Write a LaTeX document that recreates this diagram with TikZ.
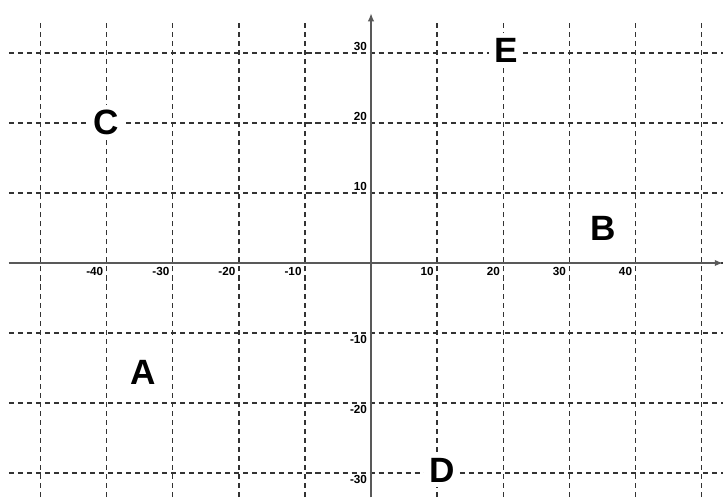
\documentclass[tikz,border=0pt]{standalone}
\usepackage{fontspec}
\setmainfont{Liberation Sans}
\usetikzlibrary{arrows.meta}

\begin{document}
\begin{tikzpicture}[x=0.1983cm,y=0.21cm,
    gridline/.style={draw=black!80,line width=1.2pt,dash pattern=on 4.3pt off 3.4pt},
    axisline/.style={draw=black!65,line width=1.6pt,-{Latex[length=7pt,width=5.5pt]}},
    ticklabel/.style={font=\fontsize{10}{11}\selectfont\bfseries,inner sep=1pt},
    pointlabel/.style={font=\fontsize{30}{32}\selectfont\bfseries,fill=white,inner sep=4pt}]
    \useasboundingbox (-56.13,-33.43) rectangle (53.25,37.57);

    % dashed grid
    \foreach \x in {-50,-40,...,50}
        \draw[gridline] (\x,-33.43) -- (\x,34.7);
    \foreach \y in {-30,-20,...,30}
        \draw[gridline] (-54.8,\y) -- (53.25,\y);

    % axes
    \coordinate (xstart) at (-54.8,0);
    \coordinate (xend) at (53.25,0);
    \coordinate (ystart) at (0,-33.43);
    \coordinate (yend) at (0,35.7);
    \draw[axisline] (xstart) -- (xend);
    \draw[axisline] (ystart) -- (yend);

    % tick labels
    \foreach \x [count=\i] in {-40,-30,-20,-10,10,20,30,40}
        \node[ticklabel,anchor=north east] (xt\i) at (\x-0.3,-0.4) {\x};
    \foreach \y [count=\i] in {10,20,30}
        \node[ticklabel,anchor=south east] (yp\i) at (-0.4,\y+0.1) {\y};
    \foreach \y [count=\i] in {-10,-20,-30}
        \node[ticklabel,anchor=north east] (yn\i) at (-0.4,\y-0.2) {\y};

    % points
    \node[pointlabel] (ptA) at (-34.5,-15.6) {A};
    \node[pointlabel] (ptB) at (35.2,4.9) {B};
    \node[pointlabel] (ptC) at (-40,20.1) {C};
    \node[pointlabel] (ptD) at (10.7,-29.6) {D};
    \node[pointlabel] (ptE) at (20.4,30.4) {E};
\end{tikzpicture}
\end{document}
